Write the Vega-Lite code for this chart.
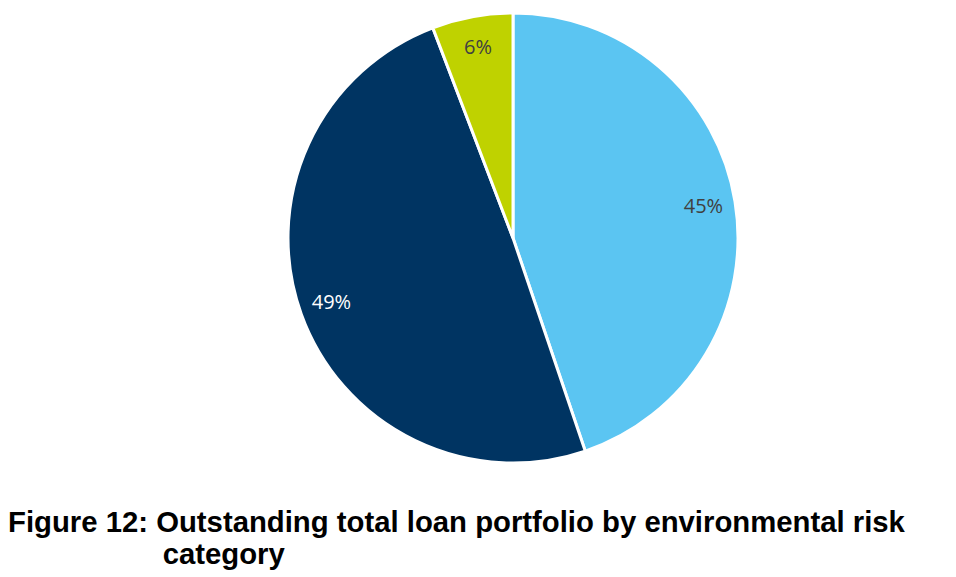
{
  "$schema": "https://vega.github.io/schema/vega-lite/v6.json",
  "autosize": "none",
  "padding": {"left": 70, "top": 0, "right": 0, "bottom": 101},
  "width": 886,
  "height": 476,
  "background": "white",
  "config": {"view": {"stroke": null}},
  "title": {
    "text": ["Figure 12: Outstanding total loan portfolio by environmental risk", "\u200b\u00a0\u00a0\u00a0\u00a0\u00a0\u00a0\u00a0\u00a0\u00a0\u00a0\u00a0\u00a0\u00a0\u00a0\u00a0\u00a0\u00a0\u00a0\u00a0category"],
    "orient": "bottom",
    "anchor": "start",
    "frame": "group",
    "dx": -62,
    "offset": 56,
    "baseline": "alphabetic",
    "font": "Liberation Sans",
    "fontWeight": "bold",
    "fontSize": 29.3,
    "lineHeight": 32,
    "color": "#000000"
  },
  "data": {
    "values": [
      {"category": "A", "value": 44.8, "order": 1, "label": "45%"},
      {"category": "B", "value": 49.4, "order": 2, "label": "49%"},
      {"category": "C", "value": 5.8, "order": 3, "label": "6%"}
    ]
  },
  "encoding": {
    "theta": {"field": "value", "type": "quantitative", "stack": true},
    "order": {"field": "order", "type": "quantitative", "sort": "ascending"}
  },
  "layer": [
    {
      "mark": {"type": "arc", "outerRadius": 225, "stroke": "white", "strokeWidth": 3},
      "encoding": {
        "color": {
          "field": "category",
          "type": "nominal",
          "scale": {"domain": ["A", "B", "C"], "range": ["#5BC5F2", "#003462", "#BFD200"]},
          "legend": null
        }
      }
    },
    {
      "mark": {"type": "text", "radius": 193, "font": "Open Sans", "fontSize": 20},
      "encoding": {
        "text": {"field": "label"},
        "color": {
          "field": "category",
          "type": "nominal",
          "scale": {"domain": ["A", "B", "C"], "range": ["#404040", "#FFFFFF", "#404040"]},
          "legend": null
        }
      }
    }
  ],
  "resolve": {"scale": {"color": "independent"}}
}
